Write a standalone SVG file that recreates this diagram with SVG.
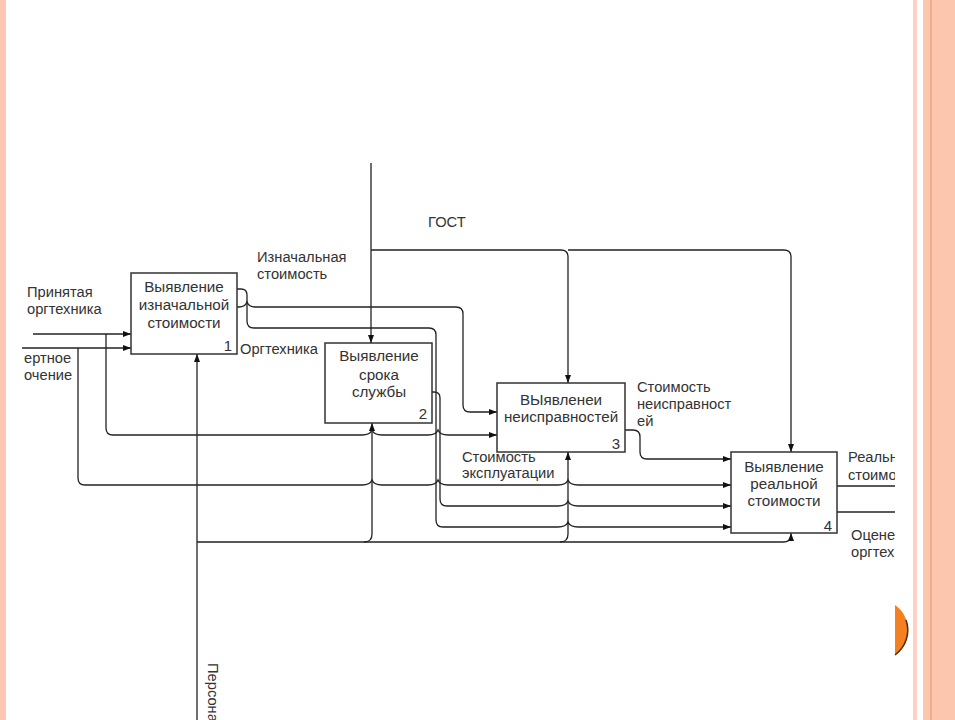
<svg xmlns="http://www.w3.org/2000/svg" width="955" height="720" viewBox="0 0 955 720">
<style>
text{font-family:"Liberation Sans",Arial,sans-serif;font-size:14.7px;fill:#333}
.c{text-anchor:middle;font-size:15.2px}
.n{text-anchor:end;font-size:15px}
.box{fill:#fff;stroke:#333;stroke-width:1.5}
.ln{fill:none;stroke:#222;stroke-width:1.3}
</style>
<defs>
<marker id="ar" viewBox="0 0 8 6" refX="8" refY="3" markerWidth="8" markerHeight="6" markerUnits="userSpaceOnUse" orient="auto"><path d="M0,0 L8,3 L0,6 z" fill="#111"/></marker>
<clipPath id="clipR"><rect x="0" y="0" width="895" height="720"/></clipPath>
</defs>
<rect width="955" height="720" fill="#fff"/>
<rect x="0" y="0" width="6" height="720" fill="#fcc8b3"/>
<rect x="913" y="0" width="4" height="720" fill="#fdd2c0"/>
<rect x="923" y="0" width="32" height="720" fill="#fcc5ae"/>
<line x1="931" y1="0" x2="931" y2="720" stroke="#e59a5e" stroke-width="1"/>
<path d="M895,605 A30.5,30.5 0 0 1 895,655 Z" fill="#f58022"/>
<path d="M906,620 A30.5,30.5 0 0 1 895,655" fill="none" stroke="#4a2a10" stroke-width="1.5"/>

<g id="connectors" class="ln">
<path class="ln" d="M371,163 V343" marker-end="url(#ar)"/>
<path class="ln" d="M371,250 H561 Q568,250 568,257 V383" marker-end="url(#ar)"/>
<path class="ln" d="M568,250 H784 Q791,250 791,257 V452" marker-end="url(#ar)"/>
<path class="ln" d="M33,334 H131" marker-end="url(#ar)"/>
<path class="ln" d="M22,348 H131" marker-end="url(#ar)"/>
<path class="ln" d="M106,334 V428 Q106,435 113,435 H362 Q370,435 372,430 Q374,435 382,435 H428 Q436,435 438,430 Q440,435 448,435 H497" marker-end="url(#ar)"/>
<path class="ln" d="M78,348 V478 Q78,485 85,485 H362 Q370,485 372,480 Q374,485 382,485 H428 Q436,485 438,480 Q440,485 448,485 H558 Q566,485 568,480 Q570,485 578,485 H731" marker-end="url(#ar)"/>
<path class="ln" d="M237,289 H241 Q247,289 247,295 V321 Q247,328 254,328 H429 Q436,328 436,335 V520 Q436,527 443,527 H558 Q566,527 568,522 Q570,527 578,527 H731" marker-end="url(#ar)"/>
<path class="ln" d="M237,307 H239 Q245,307 247,302 Q249,307 255,307 H456 Q463,307 463,314 V405 Q463,412 470,412 H497" marker-end="url(#ar)"/>
<path class="ln" d="M432,392 H434 Q440,392 440,398 V499 Q440,506 447,506 H558 Q566,506 568,501 Q570,506 578,506 H731" marker-end="url(#ar)"/>
<path class="ln" d="M625,430 H633 Q640,430 640,437 V452 Q640,459 647,459 H731" marker-end="url(#ar)"/>
<path class="ln" d="M197,720 V354" marker-end="url(#ar)"/>
<path class="ln" d="M197,542 H783 Q791,542 791,535 V533" marker-end="url(#ar)"/>
<path class="ln" d="M364,542 Q372,542 372,534 V423" marker-end="url(#ar)"/>
<path class="ln" d="M560,542 Q568,542 568,534 V452" marker-end="url(#ar)"/>
<path class="ln" d="M837,486 H895"/>
<path class="ln" d="M837,512 H895"/>
</g>

<g id="node1">
<rect class="box" x="131" y="273" width="106" height="81"/>
<text class="c" x="184" y="292">Выявление</text>
<text class="c" x="184" y="310">изначальной</text>
<text class="c" x="184" y="328">стоимости</text>
<text class="n" x="232" y="351">1</text>
</g>
<g id="node2">
<rect class="box" x="325" y="343" width="107" height="80"/>
<text class="c" x="379" y="361">Выявление</text>
<text class="c" x="379" y="380">срока</text>
<text class="c" x="379" y="397">службы</text>
<text class="n" x="427" y="419">2</text>
</g>
<g id="node3">
<rect class="box" x="497" y="383" width="128" height="69"/>
<text class="c" x="561" y="405">ВЫявленеи</text>
<text class="c" x="561" y="422">неисправностей</text>
<text class="n" x="620" y="449">3</text>
</g>
<g id="node4">
<rect class="box" x="731" y="452" width="106" height="81"/>
<text class="c" x="784" y="472">Выявление</text>
<text class="c" x="784" y="489">реальной</text>
<text class="c" x="784" y="506">стоимости</text>
<text class="n" x="832" y="531">4</text>
</g>

<g id="labels">
<text x="27" y="297">Принятая</text>
<text x="27" y="314">оргтехника</text>
<text x="24" y="363">ертное</text>
<text x="24" y="380">очение</text>
<text x="257" y="262">Изначальная</text>
<text x="257" y="279">стоимость</text>
<text x="240" y="354">Оргтехника</text>
<text x="428" y="227">ГОСТ</text>
<text x="462" y="462">Стоимость</text>
<text x="462" y="478">эксплуатации</text>
<text x="637" y="392">Стоимость</text>
<text x="637" y="409">неисправност</text>
<text x="637" y="426">ей</text>
<g clip-path="url(#clipR)">
<text x="848" y="462">Реальн</text>
<text x="848" y="480">стоимо</text>
<text x="851" y="540">Оцене</text>
<text x="851" y="557">оргтех</text>
</g>
<text transform="translate(208,663) rotate(90)">Персона</text>
</g>
</svg>
